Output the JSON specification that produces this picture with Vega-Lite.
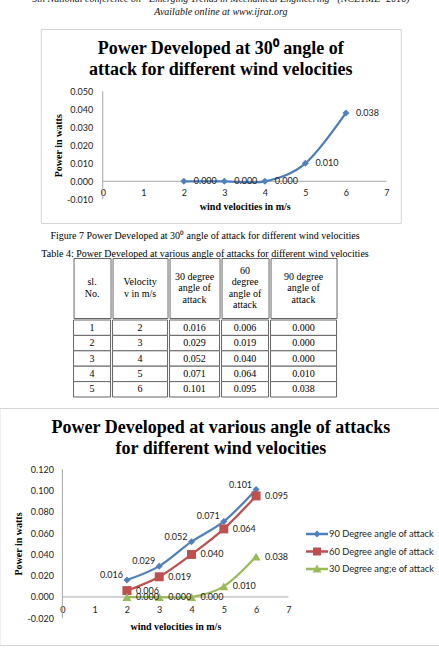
{
  "$schema": "https://vega.github.io/schema/vega-lite/v6.json",
  "background": "white",
  "padding": {"left": -2, "right": -2, "top": -6, "bottom": 0},
  "title": {
    "text": ["5th National conference on “Emerging Trends in Mechanical Engineering” (NCETME- 2016)", "Available online at www.ijrat.org"],
    "font": "Liberation Serif", "fontSize": 10, "fontStyle": "italic", "fontWeight": "normal",
    "lineHeight": 13.3, "color": "#111", "anchor": "middle", "baseline": "bottom", "offset": 1
  },
  "datasets": {
    "fig7": [
      {"v": 2, "p": 0.000}, {"v": 3, "p": 0.000}, {"v": 4, "p": 0.000}, {"v": 5, "p": 0.010}, {"v": 6, "p": 0.038}
    ],
    "table": [
      {"no": 1, "v": 2, "deg30": 0.016, "deg60": 0.006, "deg90": 0.000},
      {"no": 2, "v": 3, "deg30": 0.029, "deg60": 0.019, "deg90": 0.000},
      {"no": 3, "v": 4, "deg30": 0.052, "deg60": 0.040, "deg90": 0.000},
      {"no": 4, "v": 5, "deg30": 0.071, "deg60": 0.064, "deg90": 0.010},
      {"no": 5, "v": 6, "deg30": 0.101, "deg60": 0.095, "deg90": 0.038}
    ],
    "power": [
      {"v": 2, "series": "90 Degree angle of attack", "p": 0.016},
      {"v": 3, "series": "90 Degree angle of attack", "p": 0.029},
      {"v": 4, "series": "90 Degree angle of attack", "p": 0.052},
      {"v": 5, "series": "90 Degree angle of attack", "p": 0.071},
      {"v": 6, "series": "90 Degree angle of attack", "p": 0.101},
      {"v": 2, "series": "60 Degree angle of attack", "p": 0.006},
      {"v": 3, "series": "60 Degree angle of attack", "p": 0.019},
      {"v": 4, "series": "60 Degree angle of attack", "p": 0.040},
      {"v": 5, "series": "60 Degree angle of attack", "p": 0.064},
      {"v": 6, "series": "60 Degree angle of attack", "p": 0.095},
      {"v": 2, "series": "30 Degree ang;e of attack", "p": 0.000},
      {"v": 3, "series": "30 Degree ang;e of attack", "p": 0.000},
      {"v": 4, "series": "30 Degree ang;e of attack", "p": 0.000},
      {"v": 5, "series": "30 Degree ang;e of attack", "p": 0.010},
      {"v": 6, "series": "30 Degree ang;e of attack", "p": 0.038}
    ]
  },
  "spacing": 7,
  "center": true,
  "vconcat": [
    {
      "width": 360, "height": 194,
      "view": {"stroke": "#D4D4D4"},
      "title": {
        "text": ["Power Developed at 30⁰ angle of", "attack for different wind velocities"],
        "font": "Liberation Serif", "fontSize": 18, "fontWeight": "bold", "lineHeight": 21,
        "color": "#000", "anchor": "middle", "baseline": "bottom", "offset": -68
      },
      "data": {"name": "fig7"},
      "encoding": {
        "x": {
          "field": "v", "type": "quantitative",
          "scale": {"domain": [-1.5297, 7.3528], "nice": false, "zero": false},
          "axis": {
            "values": [0, 1, 2, 3, 4, 5, 6, 7], "offset": -41.7, "domain": false, "ticks": false, "grid": false,
            "labelFont": "Lato", "labelFontSize": 9, "labelColor": "#222", "labelPadding": 7, "labelFlush": false, "labelOverlap": false,
            "title": "wind velocities in m/s", "titleFont": "Liberation Serif", "titleFontSize": 10, "titleFontWeight": "bold",
            "titleColor": "#000", "titleX": 204, "titleY": 25, "titleBaseline": "middle"
          }
        },
        "y": {
          "field": "p", "type": "quantitative",
          "scale": {"domain": [-0.02317, 0.08461], "nice": false, "zero": false},
          "axis": {
            "values": [-0.01, 0, 0.01, 0.02, 0.03, 0.04, 0.05], "format": ".3f", "offset": -62,
            "domain": false, "ticks": false, "grid": false,
            "labelFont": "Lato", "labelFontSize": 9, "labelColor": "#222", "labelPadding": 10, "labelOverlap": false,
            "title": "Power in watts", "titleFont": "Liberation Serif", "titleFontSize": 10, "titleFontWeight": "bold",
            "titleColor": "#000", "titleX": -44, "titleY": 116.3, "titleBaseline": "middle", "titleAngle": -90
          }
        }
      },
      "layer": [
        {"data": {"values": [{"v": 0, "v2": 7, "p": 0}]}, "mark": {"type": "rule", "color": "#A6A6A6", "strokeWidth": 1}, "encoding": {"x2": {"field": "v2"}}},
        {"data": {"values": [{"v": 0, "p": -0.01, "p2": 0.05}]}, "mark": {"type": "rule", "color": "#A6A6A6", "strokeWidth": 1}, "encoding": {"y2": {"field": "p2"}}},
        {"mark": {"type": "line", "interpolate": "cardinal", "color": "#4A7EBB", "strokeWidth": 2.25}, "encoding": {}},
        {"mark": {"type": "point", "shape": "diamond", "filled": true, "size": 49, "color": "#4F81BD", "opacity": 1}},
        {"mark": {"type": "text", "align": "left", "baseline": "middle", "dx": 10, "font": "Lato", "fontSize": 9, "color": "#222"},
         "encoding": {"text": {"field": "p", "type": "quantitative", "format": ".3f"}}}
      ]
    },
    {
      "spacing": 9,
      "center": true,
      "vconcat": [
        {
          "title": {
            "text": ["Figure 7 Power Developed at 30⁰ angle of attack for different wind velocities", "Table 4: Power Developed at various angle of attacks for different wind velocities"],
            "font": "Liberation Serif", "fontSize": 10, "fontWeight": "normal", "lineHeight": 18,
            "color": "#000", "anchor": "middle", "baseline": "bottom", "offset": -11.5
          },
          "spacing": 0,
          "vconcat": [
            {
              "spacing": 0,
              "hconcat": [
                {"width": 37, "height": 60, "view": {"stroke": "#666"}, "data": {"values": [{"h": "sl.\nNo."}]},
                 "mark": {"type": "text", "lineBreak": "\n", "lineHeight": 11.5, "dy": -5.75, "font": "Liberation Serif", "fontSize": 10, "color": "#000", "baseline": "middle"},
                 "encoding": {"text": {"field": "h"}}},
                {"width": 55, "height": 60, "view": {"stroke": "#666"}, "data": {"values": [{"h": "Velocity\nv in m/s"}]},
                 "mark": {"type": "text", "lineBreak": "\n", "lineHeight": 11.5, "dy": -5.75, "font": "Liberation Serif", "fontSize": 10, "color": "#000", "baseline": "middle"},
                 "encoding": {"text": {"field": "h"}}},
                {"width": 50, "height": 60, "view": {"stroke": "#666"}, "data": {"values": [{"h": "30 degree\nangle of\nattack"}]},
                 "mark": {"type": "text", "lineBreak": "\n", "lineHeight": 11.5, "dy": -11.5, "font": "Liberation Serif", "fontSize": 10, "color": "#000", "baseline": "middle"},
                 "encoding": {"text": {"field": "h"}}},
                {"width": 47, "height": 60, "view": {"stroke": "#666"}, "data": {"values": [{"h": "60\ndegree\nangle of\nattack"}]},
                 "mark": {"type": "text", "lineBreak": "\n", "lineHeight": 11.5, "dy": -17.25, "font": "Liberation Serif", "fontSize": 10, "color": "#000", "baseline": "middle"},
                 "encoding": {"text": {"field": "h"}}},
                {"width": 66, "height": 60, "view": {"stroke": "#666"}, "data": {"values": [{"h": "90 degree\nangle of\nattack"}]},
                 "mark": {"type": "text", "lineBreak": "\n", "lineHeight": 11.5, "dy": -11.5, "font": "Liberation Serif", "fontSize": 10, "color": "#000", "baseline": "middle"},
                 "encoding": {"text": {"field": "h"}}}
              ]
            },
            {
              "spacing": 0,
              "hconcat": [
                {"width": 37, "height": 77, "data": {"name": "table"},
                 "encoding": {"y": {"field": "no", "type": "ordinal", "axis": null, "scale": {"paddingInner": 0, "paddingOuter": 0}}},
                 "layer": [
                   {"mark": {"type": "rect", "fill": "white", "stroke": "#666", "strokeWidth": 1}},
                   {"mark": {"type": "text", "font": "Liberation Serif", "fontSize": 10, "color": "#000"}, "encoding": {"text": {"field": "no"}}}
                 ]},
                {"width": 55, "height": 77, "data": {"name": "table"},
                 "encoding": {"y": {"field": "no", "type": "ordinal", "axis": null, "scale": {"paddingInner": 0, "paddingOuter": 0}}},
                 "layer": [
                   {"mark": {"type": "rect", "fill": "white", "stroke": "#666", "strokeWidth": 1}},
                   {"mark": {"type": "text", "font": "Liberation Serif", "fontSize": 10, "color": "#000"}, "encoding": {"text": {"field": "v"}}}
                 ]},
                {"width": 50, "height": 77, "data": {"name": "table"},
                 "encoding": {"y": {"field": "no", "type": "ordinal", "axis": null, "scale": {"paddingInner": 0, "paddingOuter": 0}}},
                 "layer": [
                   {"mark": {"type": "rect", "fill": "white", "stroke": "#666", "strokeWidth": 1}},
                   {"mark": {"type": "text", "font": "Liberation Serif", "fontSize": 10, "color": "#000"}, "encoding": {"text": {"field": "deg30", "type": "quantitative", "format": ".3f"}}}
                 ]},
                {"width": 47, "height": 77, "data": {"name": "table"},
                 "encoding": {"y": {"field": "no", "type": "ordinal", "axis": null, "scale": {"paddingInner": 0, "paddingOuter": 0}}},
                 "layer": [
                   {"mark": {"type": "rect", "fill": "white", "stroke": "#666", "strokeWidth": 1}},
                   {"mark": {"type": "text", "font": "Liberation Serif", "fontSize": 10, "color": "#000"}, "encoding": {"text": {"field": "deg60", "type": "quantitative", "format": ".3f"}}}
                 ]},
                {"width": 66, "height": 77, "data": {"name": "table"},
                 "encoding": {"y": {"field": "no", "type": "ordinal", "axis": null, "scale": {"paddingInner": 0, "paddingOuter": 0}}},
                 "layer": [
                   {"mark": {"type": "rect", "fill": "white", "stroke": "#666", "strokeWidth": 1}},
                   {"mark": {"type": "text", "font": "Liberation Serif", "fontSize": 10, "color": "#000"}, "encoding": {"text": {"field": "deg90", "type": "quantitative", "format": ".3f"}}}
                 ]}
              ]
            }
          ]
        },
        {
          "width": 443, "height": 237,
          "view": {"stroke": "#D4D4D4"},
          "title": {
            "text": ["Power Developed at various angle of attacks", "for different wind velocities"],
            "font": "Liberation Serif", "fontSize": 18, "fontWeight": "bold", "lineHeight": 20.7,
            "color": "#000", "anchor": "middle", "baseline": "bottom", "offset": -68
          },
          "data": {"name": "power"},
          "encoding": {
            "x": {
              "field": "v", "type": "quantitative",
              "scale": {"domain": [-1.9513, 11.770], "nice": false, "zero": false},
              "axis": {
                "values": [0, 1, 2, 3, 4, 5, 6, 7], "offset": -48, "domain": false, "ticks": false, "grid": false,
                "labelFont": "Lato", "labelFontSize": 9, "labelColor": "#222", "labelPadding": 8, "labelFlush": false, "labelOverlap": false,
                "title": "wind velocities in m/s", "titleFont": "Liberation Serif", "titleFontSize": 10, "titleFontWeight": "bold",
                "titleColor": "#000", "titleX": 176, "titleY": 29.7, "titleBaseline": "middle"
              }
            },
            "y": {
              "field": "p", "type": "quantitative",
              "scale": {"domain": [-0.0451, 0.17758], "nice": false, "zero": false},
              "axis": {
                "values": [-0.02, 0, 0.02, 0.04, 0.06, 0.08, 0.1, 0.12], "format": ".3f", "offset": -63,
                "domain": false, "ticks": false, "grid": false,
                "labelFont": "Lato", "labelFontSize": 9, "labelColor": "#222", "labelPadding": 9, "labelOverlap": false,
                "title": "Power in watts", "titleFont": "Liberation Serif", "titleFontSize": 10, "titleFontWeight": "bold",
                "titleColor": "#000", "titleX": -44, "titleY": 135.5, "titleBaseline": "middle", "titleAngle": -90
              }
            }
          },
          "layer": [
            {"data": {"values": [{"v": 0, "v2": 7, "p": 0}]}, "mark": {"type": "rule", "color": "#A6A6A6", "strokeWidth": 1}, "encoding": {"x2": {"field": "v2"}}},
            {"data": {"values": [{"v": 0, "p": -0.02, "p2": 0.12}]}, "mark": {"type": "rule", "color": "#A6A6A6", "strokeWidth": 1}, "encoding": {"y2": {"field": "p2"}}},
            {"mark": {"type": "line", "interpolate": "cardinal", "strokeWidth": 2.25},
             "encoding": {"color": {"field": "series", "type": "nominal",
               "scale": {"domain": ["90 Degree angle of attack", "60 Degree angle of attack", "30 Degree ang;e of attack"], "range": ["#4F81BD", "#C0504D", "#9BBB59"]},
               "legend": {
                 "title": null, "orient": "none", "legendX": 310, "legendY": 497, "padding": 0,
                 "symbolSize": 256, "symbolStrokeWidth": 0, "labelOffset": 4, "rowPadding": 3.5,
                 "labelFont": "Lato", "labelFontSize": 9.3, "labelColor": "#222",
                 "encode": {"symbols": {"update": {
                   "shape": {"signal": "datum.value === '90 Degree angle of attack' ? 'M-1.375,-0.15H1.375V0.15H-1.375Z M0,-0.44L0.44,0L0,0.44L-0.44,0Z' : datum.value === '60 Degree angle of attack' ? 'M-1.375,-0.15H1.375V0.15H-1.375Z M-0.5,-0.5H0.5V0.5H-0.5Z' : 'M-1.375,-0.15H1.375V0.15H-1.375Z M0,-0.55L0.56,0.45H-0.56Z'"},
                   "fill": {"signal": "datum.value === '90 Degree angle of attack' ? '#4F81BD' : datum.value === '60 Degree angle of attack' ? '#C0504D' : '#9BBB59'"},
                   "stroke": {"value": "transparent"},
                   "strokeWidth": {"value": 0},
                   "opacity": {"value": 1}
                 }}}
               }}}},
            {"transform": [{"filter": "datum.series === '90 Degree angle of attack'"}],
             "mark": {"type": "point", "shape": "diamond", "filled": true, "size": 49, "color": "#4F81BD", "opacity": 1}},
            {"transform": [{"filter": "datum.series === '60 Degree angle of attack'"}],
             "mark": {"type": "point", "shape": "square", "filled": true, "size": 81, "color": "#C0504D", "opacity": 1}},
            {"transform": [{"filter": "datum.series === '30 Degree ang;e of attack'"}],
             "mark": {"type": "point", "shape": "triangle-up", "filled": true, "size": 81, "color": "#9BBB59", "opacity": 1}},
            {"transform": [{"filter": "datum.series === '90 Degree angle of attack'"}],
             "mark": {"type": "text", "align": "right", "baseline": "middle", "dx": -4, "dy": -5, "font": "Lato", "fontSize": 9, "color": "#222"},
             "encoding": {"text": {"field": "p", "type": "quantitative", "format": ".3f"}}},
            {"transform": [{"filter": "datum.series !== '90 Degree angle of attack'"}],
             "mark": {"type": "text", "align": "left", "baseline": "middle", "dx": 9, "font": "Lato", "fontSize": 9, "color": "#222"},
             "encoding": {"text": {"field": "p", "type": "quantitative", "format": ".3f"}}}
          ]
        }
      ]
    }
  ],
  "config": {
    "view": {"stroke": null},
    "locale": {"number": {"decimal": ".", "thousands": ",", "grouping": [3], "currency": ["$", ""], "minus": "-"}}
  }
}
